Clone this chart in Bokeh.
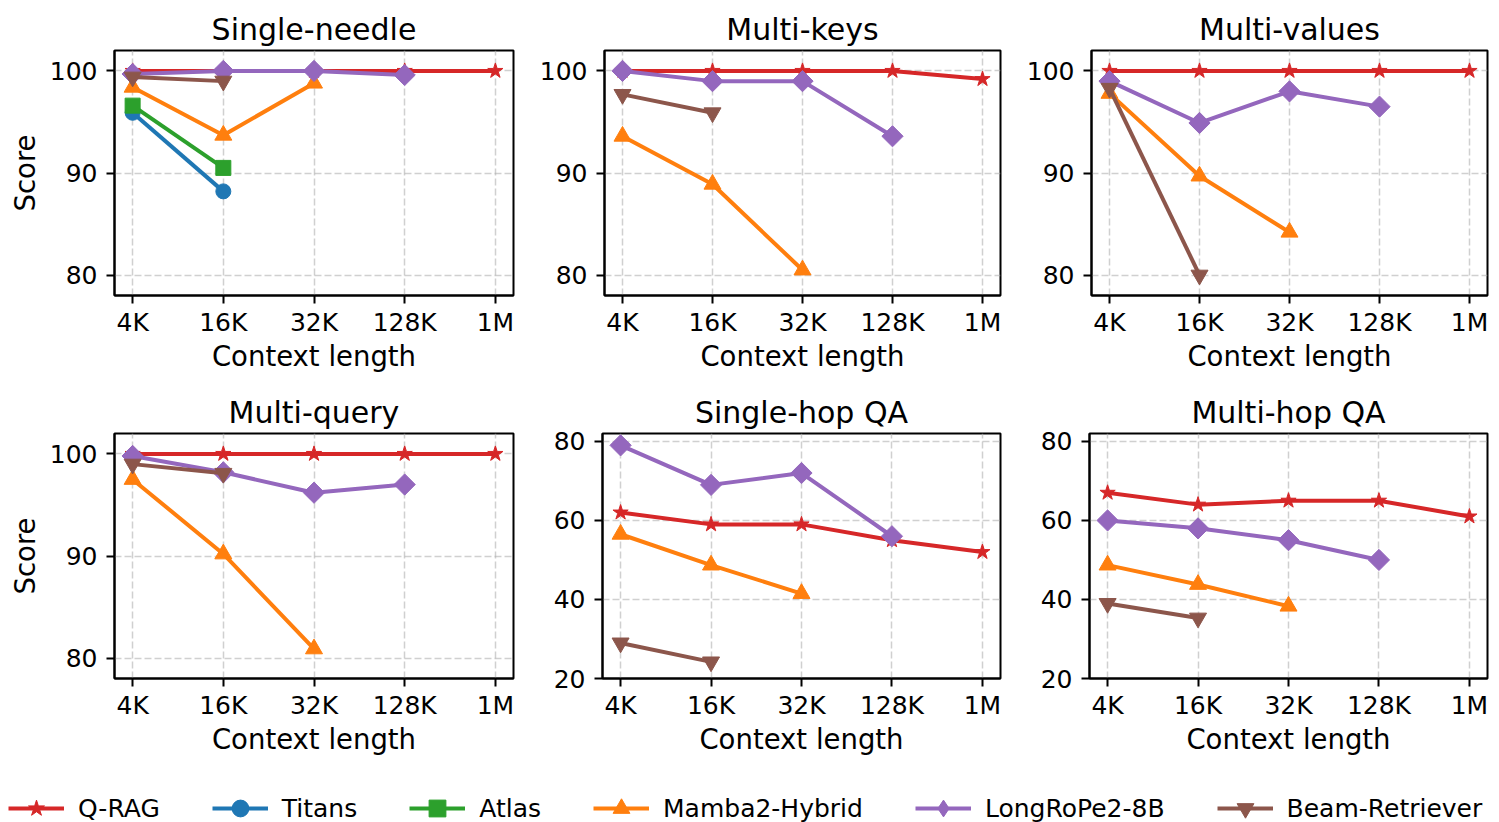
import math
from bokeh.plotting import figure
from bokeh.models import (ColumnDataSource, Range1d, FixedTicker, Legend, LegendItem)
from bokeh.layouts import column, row
from bokeh.embed import file_html
from bokeh.resources import INLINE

N = None
ctx = ["4K", "16K", "32K", "128K", "1M"]
tasks = ["Single-needle", "Multi-keys", "Multi-values",
         "Multi-query", "Single-hop QA", "Multi-hop QA"]
methods = ["Q-RAG", "Titans", "Atlas", "Mamba2-Hybrid", "LongRoPe2-8B", "Beam-Retriever"]

# one row per task (same order as `tasks`), one value per context length
q_rag = [
    [100, 100, 100, 100, 100],
    [100, 100, 100, 100, 99.2],
    [100, 100, 100, 100, 100],
    [100, 100, 100, 100, 100],
    [62, 59, 59, 55, 52],
    [67, 64, 65, 65, 61],
]
titans = [
    [95.9, 88.2, N, N, N],
    [N, N, N, N, N],
    [N, N, N, N, N],
    [N, N, N, N, N],
    [N, N, N, N, N],
    [N, N, N, N, N],
]
atlas = [
    [96.6, 90.5, N, N, N],
    [N, N, N, N, N],
    [N, N, N, N, N],
    [N, N, N, N, N],
    [N, N, N, N, N],
    [N, N, N, N, N],
]
mamba = [
    [98.4, 93.7, 98.8, N, N],
    [93.6, 88.9, 80.5, N, N],
    [97.8, 89.7, 84.2, N, N],
    [97.5, 90.2, 80.9, N, N],
    [56.5, 48.7, 41.5, N, N],
    [48.7, 43.8, 38.3, N, N],
]
longrope = [
    [99.7, 100, 100, 99.6, N],
    [100, 99.0, 99.0, 93.6, N],
    [99.0, 94.9, 98.0, 96.5, N],
    [99.8, 98.2, 96.2, 97.0, N],
    [79, 69, 72, 56, N],
    [60, 58, 55, 50, N],
]
beam = [
    [99.4, 99.0, N, N, N],
    [97.7, 95.9, N, N, N],
    [98.3, 80.0, N, N, N],
    [99.0, 98.1, N, N, N],
    [29, 24.2, N, N, N],
    [39, 35.3, N, N, N],
]

yticks_needle = [80, 90, 100]
yticks_qa = [20, 40, 60, 80]

series = [q_rag, titans, atlas, mamba, longrope, beam]
colors = ["#d62728", "#1f77b4", "#2ca02c", "#ff7f0e", "#9467bd", "#8c564b"]
markers = ["star", "circle", "square", "triangle", "square", "inverted_triangle"]
leg_markers = ["star", "circle", "square", "triangle", "diamond", "inverted_triangle"]
msizes = [16, 15, 15, 17, 15, 17]
angles = [0, 0, 0, 0, math.pi / 4, 0]

FONT = "DejaVu Sans"
FRAME_H = 245
TOP_T, BOT_T, B = 50, 56, 82


def make_panel(ti, col, rowi):
    qa = ti >= 4
    left = 114 if col == 0 else 66
    right = 10 if col == 2 else 23
    fw = 399 if col == 0 else 398
    top = TOP_T if rowi == 0 else BOT_T
    yr = Range1d(20, 82) if qa else Range1d(78, 102)
    p = figure(width=left + fw + right, height=top + FRAME_H + B,
               x_range=Range1d(-0.2, 4.2), y_range=yr,
               output_backend="svg", toolbar_location=None,
               min_border_left=left, min_border_right=right,
               min_border_top=top, min_border_bottom=B,
               title=tasks[ti])
    p.title.align = "center"
    p.title.text_font = FONT
    p.title.text_font_size = "30px"
    p.title.text_font_style = "normal"
    p.title.text_color = "black"
    p.title.standoff = 8
    p.outline_line_color = "black"
    p.outline_line_width = 2
    p.outline_line_alpha = 1

    p.xaxis.ticker = FixedTicker(ticks=list(range(len(ctx))))
    p.xaxis.major_label_overrides = {i: c for i, c in enumerate(ctx)}
    yt = yticks_qa if qa else yticks_needle
    p.yaxis.ticker = FixedTicker(ticks=yt)
    p.xaxis.axis_label = "Context length"
    if col == 0:
        p.yaxis.axis_label = "Score"
    for ax in p.axis:
        ax.axis_label_text_font = FONT
        ax.axis_label_text_font_size = "27.5px"
        ax.axis_label_text_font_style = "normal"
        ax.axis_label_text_color = "black"
        ax.axis_label_standoff = 0
        ax.major_label_text_font = FONT
        ax.major_label_text_font_size = "25px"
        ax.major_label_text_color = "black"
        ax.major_label_standoff = 4
        ax.major_tick_in = 0
        ax.major_tick_out = 8
        ax.major_tick_line_width = 2
        ax.major_tick_line_color = "black"
        ax.minor_tick_line_color = None
        ax.axis_line_width = 2
        ax.axis_line_color = "black"
    p.yaxis.major_label_standoff = 9
    p.yaxis.axis_label_standoff = 6

    for g in p.grid:
        g.grid_line_color = "#b0b0b0"
        g.grid_line_alpha = 0.6
        g.grid_line_dash = "7 3"
        g.grid_line_width = 1.5

    for si, data in enumerate(series):
        vals = data[ti]
        xs = [i for i, v in enumerate(vals) if v is not None]
        ys = [v for v in vals if v is not None]
        if not xs:
            continue
        src = ColumnDataSource(dict(x=xs, y=ys))
        p.line("x", "y", source=src, line_color=colors[si], line_width=4)
        p.scatter("x", "y", source=src, marker=markers[si], size=msizes[si],
                  angle=angles[si], fill_color=colors[si], line_color=colors[si])
    return p


panels = []
for ti in range(6):
    panels.append(make_panel(ti, ti % 3, ti // 3))

leg = figure(width=1497, height=62, x_range=Range1d(0, 1), y_range=Range1d(0, 1),
             x_axis_type=None, y_axis_type=None, toolbar_location=None,
             output_backend="svg", min_border=0)
leg.outline_line_color = None
items = []
nan = float("nan")
for si, name in enumerate(methods):
    src = ColumnDataSource(dict(x=[nan], y=[nan]))
    rl = leg.line("x", "y", source=src, line_color=colors[si], line_width=4)
    rs = leg.scatter("x", "y", source=src, marker=leg_markers[si], size=msizes[si],
                     fill_color=colors[si], line_color=colors[si])
    items.append(LegendItem(label=name, renderers=[rl, rs]))
legend = Legend(items=items, orientation="horizontal", location=(8, -7),
                glyph_width=56, glyph_height=42, label_height=42,
                label_standoff=14, spacing=52, padding=0, margin=0,
                border_line_color=None, background_fill_alpha=0,
                label_text_font=FONT, label_text_font_size="25px",
                label_text_color="black")
leg.add_layout(legend)

layout = column(row(*panels[:3]), row(*panels[3:]), leg)
open("out.html", "w").write(file_html(layout, INLINE))
